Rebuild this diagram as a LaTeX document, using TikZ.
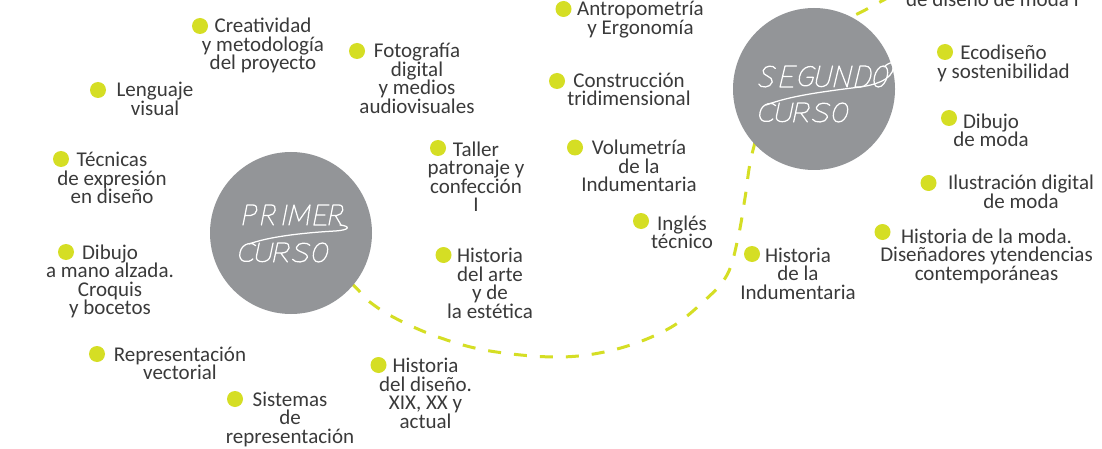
\documentclass[tikz,border=0pt]{standalone}
\usepackage{fontspec}
\setmainfont{Carlito}
\definecolor{lime}{HTML}{D5DE24}
\definecolor{disc}{HTML}{939598}
\definecolor{ink}{HTML}{3A3A3A}
\tikzset{
  item/.style={anchor=base, align=center, inner sep=0pt, text=ink, font=\fontsize{21}{18.5}\selectfont},
  bullet/.style={circle, fill=lime, minimum size=16pt, inner sep=0pt},
  course/.style={circle, fill=disc, minimum size=162pt, inner sep=0pt},
  trail/.style={draw=lime, line width=3pt, dash pattern=on 13pt off 13pt},
  glyph/.style={draw=white, line width=1.25pt, line cap=round, line join=round},
  lP/.pic={\draw[glyph] (0,0)--(0,1)--(0.3,1) .. controls (0.62,1) and (0.62,0.48) .. (0.3,0.48)--(0,0.48);},
  lR/.pic={\draw[glyph] (0,0)--(0,1)--(0.3,1) .. controls (0.62,1) and (0.62,0.48) .. (0.3,0.48)--(0,0.48) (0.22,0.48)--(0.6,0);},
  lI/.pic={\draw[glyph] (0,0)--(0,1);},
  lM/.pic={\draw[glyph] (0,0)--(0.05,1)--(0.45,0.2)--(0.85,1)--(0.9,0);},
  lE/.pic={\draw[glyph] (0.55,1)--(0,1)--(0,0)--(0.6,0) (0,0.5)--(0.45,0.5);},
  lS/.pic={\draw[glyph] (0.62,0.88) .. controls (0.5,1.04) and (0.08,1.05) .. (0.06,0.78) .. controls (0.04,0.52) and (0.62,0.52) .. (0.62,0.24) .. controls (0.62,-0.06) and (0.12,-0.06) .. (0,0.14);},
  lG/.pic={\draw[glyph] (0.66,0.86) .. controls (0.55,1.05) and (0,1.05) .. (0,0.5) .. controls (0,-0.06) and (0.66,-0.06) .. (0.66,0.3) -- (0.66,0.46) -- (0.36,0.46);},
  lU/.pic={\draw[glyph] (0,1)--(0,0.3) .. controls (0,-0.08) and (0.6,-0.08) .. (0.6,0.3)--(0.6,1);},
  lN/.pic={\draw[glyph] (0,0)--(0,1)--(0.62,0)--(0.62,1);},
  lD/.pic={\draw[glyph] (0,0)--(0,1)--(0.25,1) .. controls (0.75,1) and (0.75,0) .. (0.25,0)--cycle;},
  lO/.pic={\draw[glyph] (0.3,1) .. controls (0.7,1) and (0.7,0) .. (0.3,0) .. controls (-0.1,0) and (-0.1,1) .. (0.3,1);},
  lC/.pic={\draw[glyph] (0.62,0.86) .. controls (0.5,1.05) and (0,1.05) .. (0,0.5) .. controls (0,-0.06) and (0.5,-0.06) .. (0.62,0.16);},
}
\begin{document}
\begin{tikzpicture}[x=1pt,y=-1pt]
\useasboundingbox (0,0) rectangle (1102,449);
\fill[white] (0,0) rectangle (1102,449);
\clip (0,0) rectangle (1102,449);

% course discs (positions)
\coordinate (primerC) at (291,233);
\coordinate (segundoC) at (814,89);
\coordinate (trailend) at (895,-6);

% dashed route
\draw[trail] plot[smooth, tension=0.6] coordinates {(primerC) (352,284) (366,299) (393,317) (438,337) (490,351) (560,357) (617,349) (668,329) (703,302) (727,275) (738,238) (745,198) (753,150) (775,85) (815,38) (867,9) (trailend)};

\node[course] (primer) at (primerC) {};
\node[course] (segundo) at (segundoC) {};

% PRIMER CURSO lettering
\begin{scope}[shift={(243,225)}, x={(20pt,0pt)}, y={(4pt,20pt)}]
  \pic at (0,0) {lP}; \pic at (0.92,0) {lR}; \pic at (2,0) {lI};
  \pic at (2.3,0) {lM}; \pic at (3.55,0) {lE}; \pic at (4.3,0) {lR};
\end{scope}
\draw[glyph] (340,225) .. controls (350,226) and (351,230) .. (335,231) .. controls (300,233) and (268,237) .. (249,244);
\begin{scope}[shift={(238,262)}, x={(23pt,0pt)}, y={(4pt,19pt)}]
  \pic at (0,0) {lC}; \pic at (0.75,0) {lU}; \pic at (1.55,0) {lR};
  \pic at (2.35,0) {lS}; \pic at (3.2,0) {lO};
\end{scope}

% SEGUNDO CURSO lettering
\begin{scope}[shift={(758,87)}, x={(21pt,0pt)}, y={(5pt,21pt)}]
  \pic at (0,0) {lS}; \pic at (1.05,0) {lE}; \pic at (1.86,0) {lG};
  \pic at (2.71,0) {lU}; \pic at (3.62,0) {lN}; \pic at (4.62,0) {lD};
  \pic at (5.43,0) {lO};
\end{scope}
\draw[glyph] (884,67) .. controls (887,64) and (891,62) .. (893,63) .. controls (896,76) and (882,84) .. (860,87) .. controls (820,92) and (790,96) .. (766,105);
\begin{scope}[shift={(758,122)}, x={(23pt,0pt)}, y={(4pt,19pt)}]
  \pic at (0,0) {lC}; \pic at (0.75,0) {lU}; \pic at (1.55,0) {lR};
  \pic at (2.35,0) {lS}; \pic at (3.2,0) {lO};
\end{scope}

% first-year subjects (node anchored at the baseline of its last line)
\node[bullet] (d1) at (200,26) {};
\node[item] (t1) at (263,70) {Creatividad\\y metodología\\del proyecto};
\node[bullet] (d2) at (357,51) {};
\node[item] (t2) at (417,113.5) {Fotografía\\digital\\y medios\\audiovisuales};
\node[bullet] (d3) at (98,90) {};
\node[item] (t3) at (155,115.5) {Lenguaje\\visual};
\node[bullet] (d4) at (61,159) {};
\node[item] (t4) at (112,204) {Técnicas\\de expresión\\en diseño};
\node[bullet] (d5) at (438,148) {};
\node[item] (t5) at (476,211.5) {Taller\\patronaje y\\confección\\I};
\node[bullet] (d6) at (66,252) {};
\node[item] (t6) at (110,314.5) {Dibujo\\a mano alzada.\\Croquis\\y bocetos};
\node[bullet] (d7) at (443.5,255) {};
\node[item] (t7) at (490,318) {Historia\\del arte\\y de\\la estética};
\node[bullet] (d8) at (97,354) {};
\node[item] (t8) at (180,379.5) {Representación\\vectorial};
\node[bullet] (d9) at (235,399) {};
\node[item] (t9) at (290,443) {Sistemas\\de\\representación};
\node[bullet] (d10) at (378.5,365) {};
\node[item] (t10) at (425.5,428.2) {Historia\\del diseño.\\XIX, XX y\\actual};

% second-year subjects
\node[bullet] (d11) at (563.5,9) {};
\node[item] (t11) at (640.5,34.2) {Antropometría\\y Ergonomía};
\node[bullet] (d12) at (557,81) {};
\node[item] (t12) at (629,106) {Construcción\\tridimensional};
\node[bullet] (d13) at (575,147.5) {};
\node[item] (t13) at (639,192) {Volumetría\\de la\\Indumentaria};
\node[bullet] (d14) at (641,221) {};
\node[item] (t14) at (682,248.5) {Inglés\\técnico};
\node[bullet] (d15) at (752,254) {};
\node[item] (t15) at (798,299) {Historia\\de la\\Indumentaria};
\node[item] (t16) at (992.5,7) {de diseño de moda I};
\node[bullet] (d17) at (945,52) {};
\node[item] (t17) at (1003.5,78.5) {Ecodiseño\\y sostenibilidad};
\node[bullet] (d18) at (949,118) {};
\node[item] (t18) at (991,147) {Dibujo\\de moda};
\node[bullet] (d19) at (928.5,183) {};
\node[item] (t19) at (1021,208) {Ilustración digital\\de moda};
\node[bullet] (d20) at (882.5,232) {};
\node[item] (t20) at (986.5,280) {Historia de la moda.\\Diseñadores ytendencias\\contemporáneas};
\end{tikzpicture}
\end{document}
